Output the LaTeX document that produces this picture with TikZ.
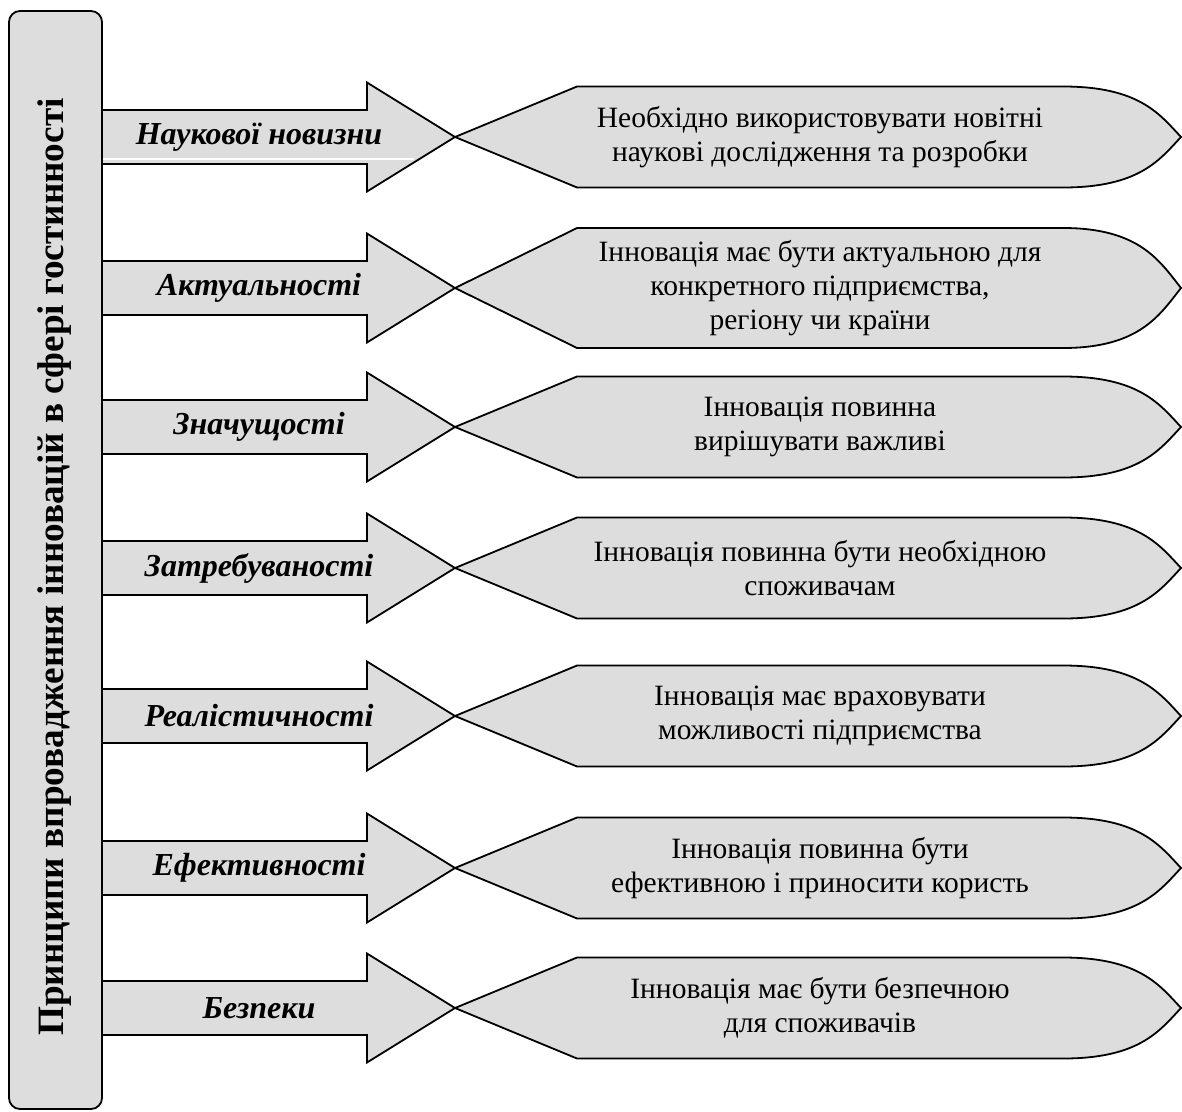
\documentclass[tikz,border=0pt]{standalone}
\usepackage{fontspec}
\setmainfont{Liberation Serif}
\usepackage{tikz}
\usetikzlibrary{calc,backgrounds}
\definecolor{boxgray}{HTML}{DDDDDD}

\begin{document}
\begin{tikzpicture}[x=1pt,y=-1pt,
    shapeline/.style={draw=black,fill=boxgray,line width=1.8pt},
    principle/.style={font=\fontsize{32}{36}\selectfont\bfseries\itshape},
    answer/.style={font=\fontsize{29.5}{34}\selectfont,align=center}]
  \useasboundingbox (0,0) rectangle (1182,1111);

  \node[rotate=90,font=\fontsize{37.2}{42}\selectfont\bfseries] (title) at (55,567) {Принципи впровадження інновацій в сфері гостинності};

  \node[principle] (p1) at (259,137) {Наукової новизни};
  \node[principle,node distance=151pt] (p2) [below of=p1] {Актуальності};
  \node[principle,node distance=139pt] (p3) [below of=p2] {Значущості};
  \node[principle,node distance=141pt] (p4) [below of=p3] {Затребуваності};
  \node[principle,node distance=148pt] (p5) [below of=p4] {Реалістичності};
  \node[principle,node distance=152pt] (p6) [below of=p5] {Ефективності};
  \node[principle,node distance=140pt] (p7) [below of=p6] {Безпеки};

  \node[answer,node distance=561pt] (d1) [right of=p1] {Необхідно використовувати новітні\\наукові дослідження та розробки};
  \node[answer,node distance=561pt] (d2) [right of=p2] {Інновація має бути актуальною для\\конкретного підприємства,\\регіону чи країни};
  \node[answer,node distance=561pt] (d3) [right of=p3] {Інновація повинна\\вирішувати важливі};
  \node[answer,node distance=561pt] (d4) [right of=p4] {Інновація повинна бути необхідною\\споживачам};
  \node[answer,node distance=561pt] (d5) [right of=p5] {Інновація має враховувати\\можливості підприємства};
  \node[answer,node distance=561pt] (d6) [right of=p6] {Інновація повинна бути\\ефективною і приносити користь};
  \node[answer,node distance=561pt] (d7) [right of=p7] {Інновація має бути безпечною\\для споживачів};

  \begin{scope}[on background layer]
    \draw[shapeline,rounded corners=11pt] (9,11) rectangle (102,1109);
    \foreach \r/\h in {1/50.5,2/60,3/50.5,4/50.5,5/50.5,6/50.5,7/50.5}{
      \draw[shapeline] ($(p\r)+(-157,-27)$) -- ++(265,0) -- ++(0,-27.5) -- ($(p\r)+(196,0)$) -- ++(-88,54.5) -- ++(0,-27.5) -- ++(-265,0) -- cycle;
      \draw[shapeline] ($(d\r)+(-365,0)$) -- ++(122,-\h) -- ++(486,0) .. controls ($(d\r)+(320,-\h)$) and ($(d\r)+(340,-\h*0.44)$) .. ($(d\r)+(361,0)$) .. controls ($(d\r)+(340,\h*0.44)$) and ($(d\r)+(320,\h)$) .. ($(d\r)+(243,\h)$) -- ++(-486,0) -- cycle;
    }
    \draw[white,line width=1.2pt] ($(p1)+(-156,22)$) -- ++(311,0); % white rule under the first label
  \end{scope}
\end{tikzpicture}
\end{document}
